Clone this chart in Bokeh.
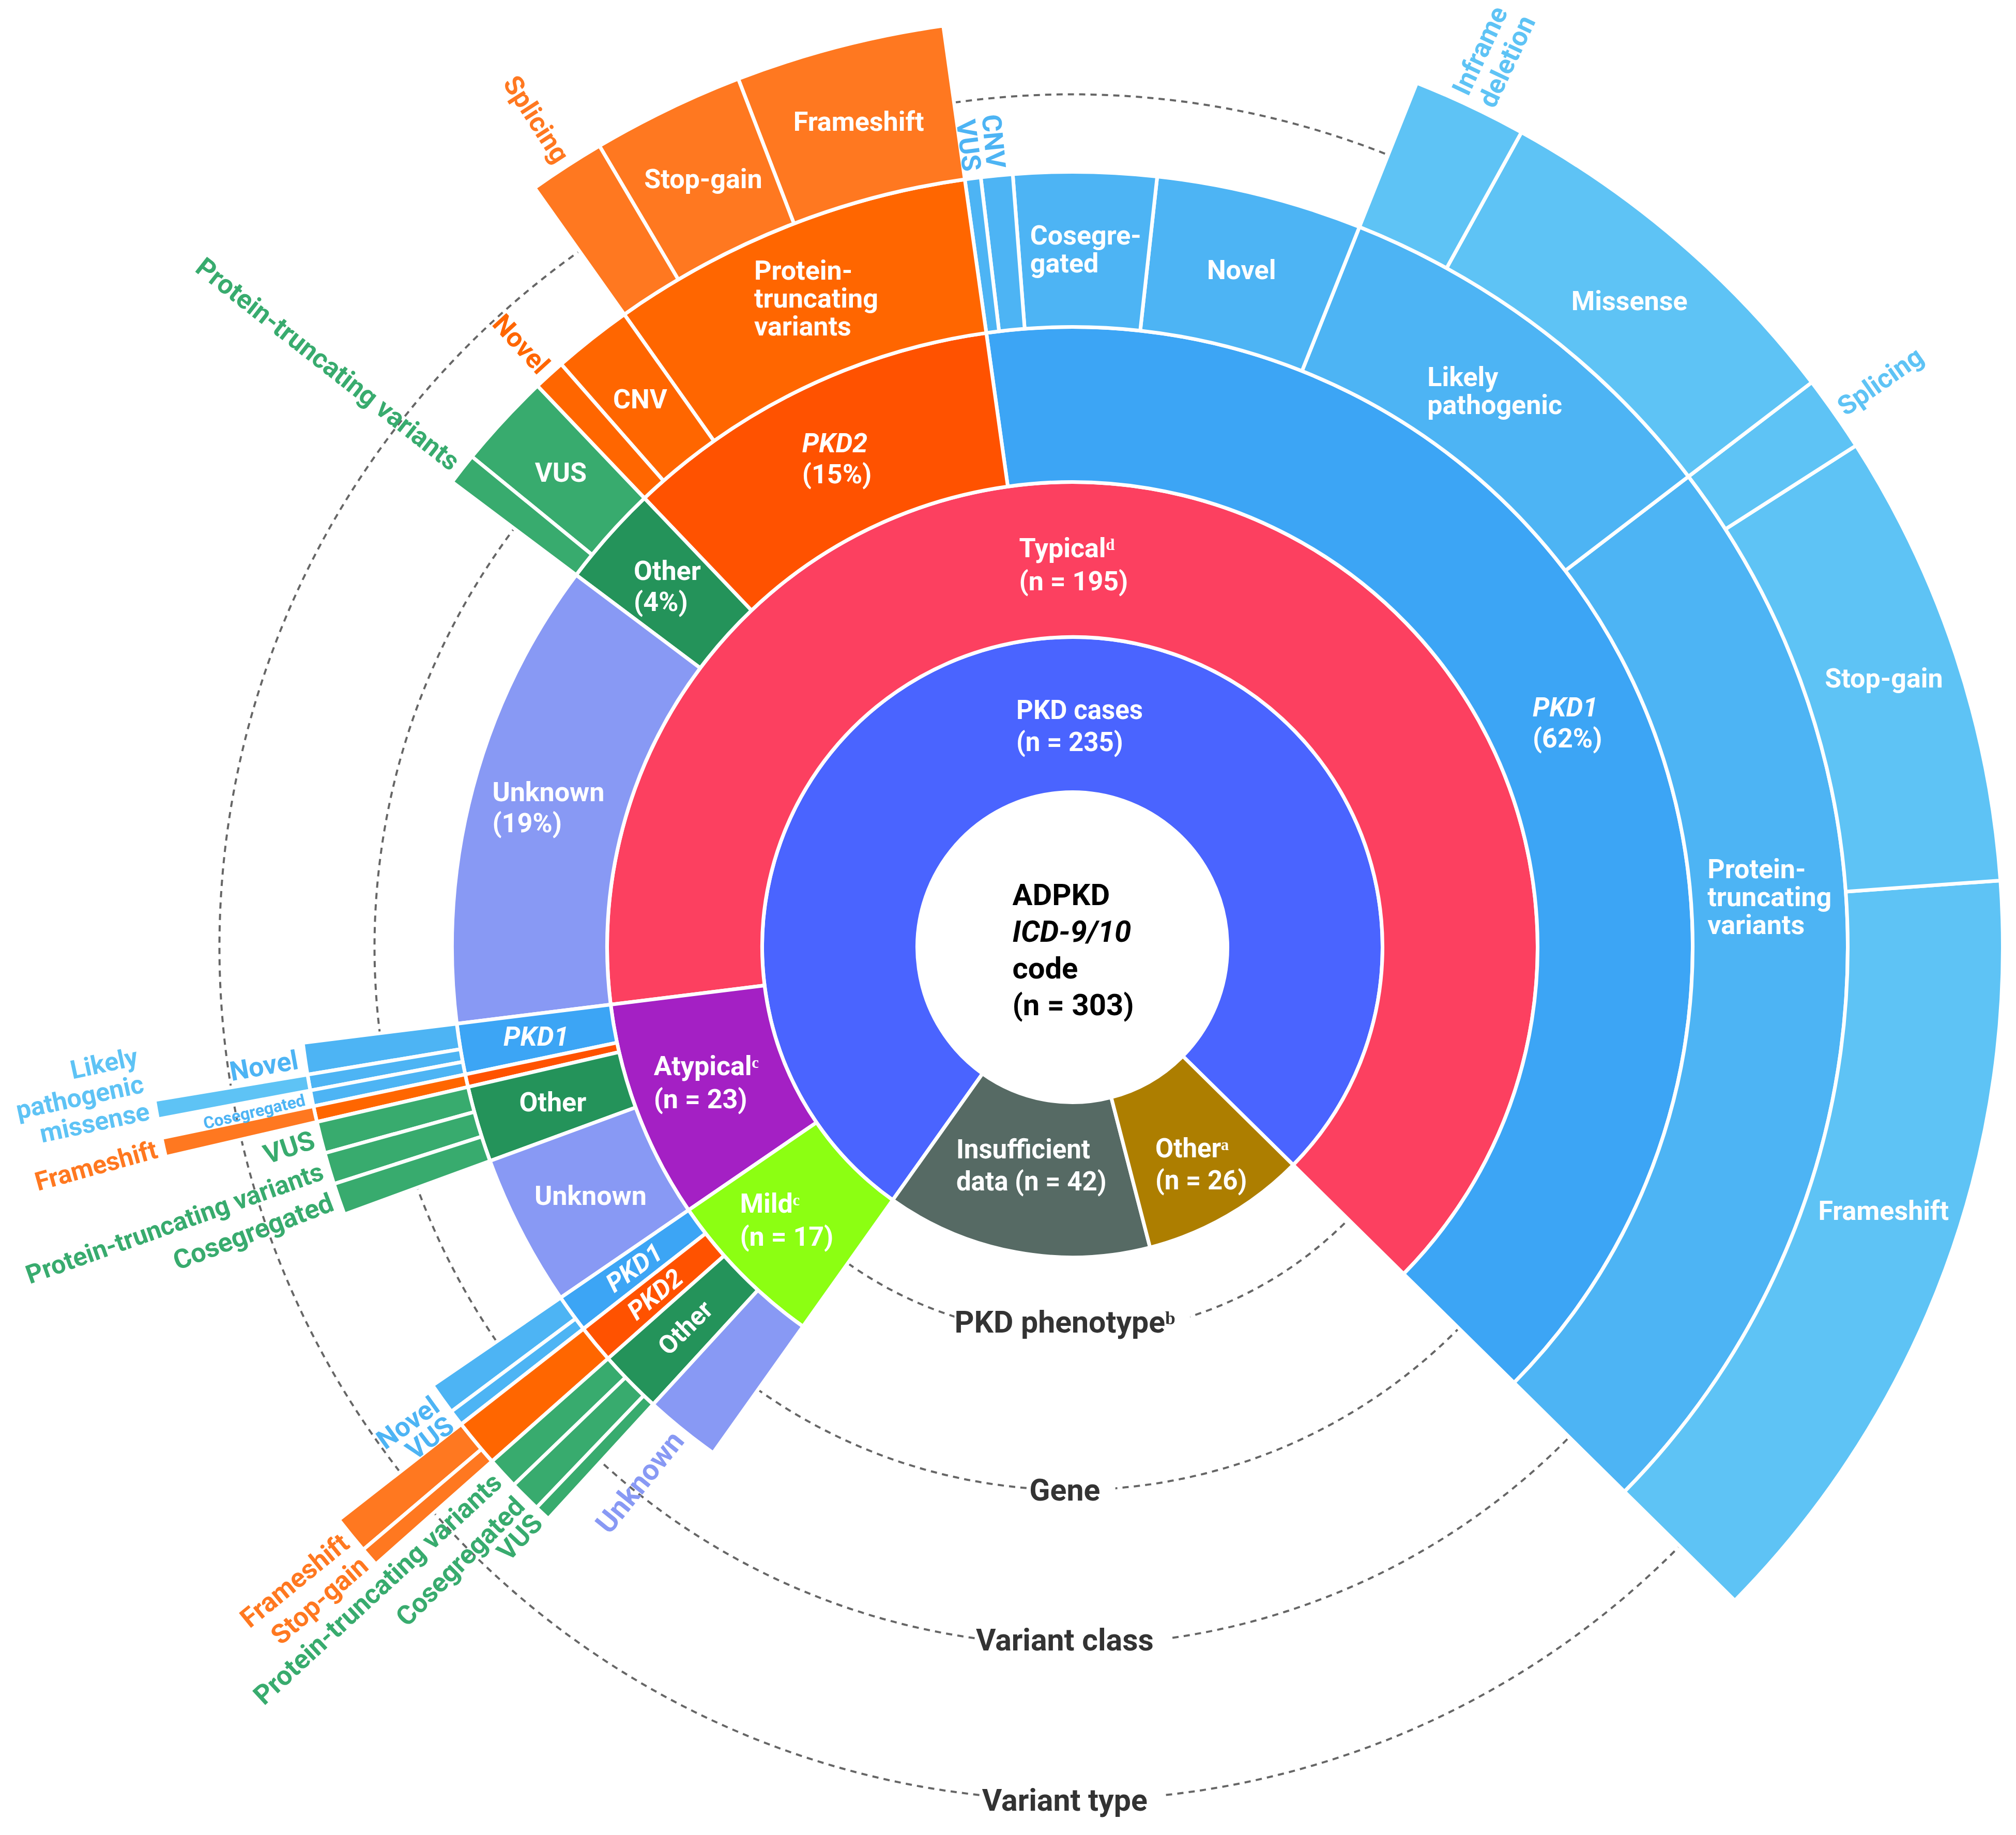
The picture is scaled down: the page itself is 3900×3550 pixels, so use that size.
import math
from bokeh.plotting import figure
from bokeh.models import Range1d, Label
from bokeh.embed import file_html
from bokeh.resources import INLINE
from bokeh.core.properties import value

# ---------------- data ----------------
centre_lines = ["ADPKD", "ICD-9/10", "code"]

cohort_names = ["PKD cases", "Insufficient data", "Other"]
cohort_counts = [235, 42, 26]

phenotype_cohort = [0, 0, 0]
phenotype_names = ["Typical", "Atypical", "Mild"]
phenotype_counts = [195, 23, 17]

gene_phenotype = [0, 0, 0, 0, 1, 1, 1, 1, 2, 2, 2, 2]
gene_names = ["PKD1", "PKD2", "Other", "Unknown",
              "PKD1", "PKD2", "Other", "Unknown",
              "PKD1", "PKD2", "Other", "Unknown"]
gene_counts = [120, 30, 8, 37, 4, 1, 6, 12, 3, 3, 5, 6]

class_gene = [0, 0, 0, 0, 0, 0, 1, 1, 1, 2, 2, 4, 4, 4, 5, 6, 6, 6, 8, 8, 9, 10, 10, 10]
class_names = ["Protein-truncating variants", "Likely pathogenic", "Novel", "Cosegregated", "CNV", "VUS",
               "Protein-truncating variants", "CNV", "Novel",
               "VUS", "Protein-truncating variants",
               "Novel", "Likely pathogenic", "Cosegregated",
               "Protein-truncating variants",
               "VUS", "Protein-truncating variants", "Cosegregated",
               "Novel", "VUS",
               "Protein-truncating variants",
               "Protein-truncating variants", "Cosegregated", "VUS"]
class_counts = [69, 26, 13, 9, 2, 1, 23, 5, 2, 6, 2, 2, 1, 1, 1, 2, 2, 2, 2, 1, 3, 2, 2, 1]

type_class = [0, 0, 0, 1, 1, 6, 6, 6, 12, 14, 20, 20]
type_names = ["Frameshift", "Stop-gain", "Splicing", "Missense", "Inframe deletion",
              "Frameshift", "Stop-gain", "Splicing", "Missense", "Frameshift",
              "Frameshift", "Stop-gain"]
type_counts = [41, 24, 4, 20, 6, 11, 8, 4, 1, 1, 2, 1]

ring_titles = ["PKD phenotype\u1d47", "Gene", "Variant class", "Variant type"]

# ---------------- geometry / style ----------------
W, H = 3884, 3534
CX, CY = 2082.0, 3550.0 - 1840.0
START = -44.6
STEP = 360.0 / sum(cohort_counts)
R = [300, 600, 900, 1200, 1500, 1800]
FONT = "Roboto"

COHORT_COL = ["#4A64FF", "#566A64", "#AD7E00"]
PHEN_COL = ["#FC4060", "#A420C4", "#8CFF12"]
GENE_COL = {"PKD1": ["#3CA5F5", "#4DB4F4", "#5EC3F5"],
            "PKD2": ["#FF5200", "#FF6600", "#FF7820"],
            "Other": ["#24935A", "#38AB6E", "#38AB6E"],
            "Unknown": ["#8899F4", "#8899F4", "#8899F4"]}

# approximate glyph advances (em) of the bold sans, for centring left-aligned blocks
ADV = {' ': .25, '(': .34, ')': .34, '=': .55, '%': .73, '-': .28, '/': .41, '.': .27}
ADV.update({d: .56 for d in "0123456789"})
ADV.update(dict(zip("abcdefghijklmnopqrstuvwxyz",
                    [.54, .56, .52, .56, .53, .35, .56, .55, .25, .25, .51, .25, .88, .55, .57, .56, .56,
                     .35, .52, .33, .55, .49, .75, .50, .48, .49])))
ADV.update(dict(zip("ABCDEFGHIJKLMNOPQRSTUVWXYZ",
                    [.66, .63, .65, .65, .57, .56, .68, .71, .28, .55, .64, .54, .87, .71, .69, .64, .69,
                     .62, .60, .61, .65, .65, .87, .63, .61, .60])))


def tw(s, size):
    return sum(ADV.get(ch, .36) for ch in s) * size


def layout(parent_start, parents, counts):
    cur, s_l, e_l = {}, [], []
    for par, c in zip(parents, counts):
        s = cur.get(par, parent_start[par])
        e = s + c * STEP
        s_l.append(s)
        e_l.append(e)
        cur[par] = e
    return s_l, e_l


c_s, c_e = layout([START], [0, 0, 0], cohort_counts)
p_s, p_e = layout(c_s, phenotype_cohort, phenotype_counts)
g_s, g_e = layout(p_s, gene_phenotype, gene_counts)
k_s, k_e = layout(g_s, class_gene, class_counts)
t_s, t_e = layout(k_s, type_class, type_counts)

g_col = [GENE_COL[n][0] for n in gene_names]
k_col = [GENE_COL[gene_names[g]][1] for g in class_gene]
t_col = [GENE_COL[gene_names[class_gene[k]]][2] for k in type_class]

p = figure(width=W, height=H, x_range=Range1d(8, 8 + W), y_range=Range1d(8, 8 + H),
           output_backend="svg", toolbar_location=None, min_border=0,
           x_axis_location=None, y_axis_location=None, title_location=None)
p.grid.visible = False
p.outline_line_color = None
p.background_fill_color = "white"
p.border_fill_color = "white"


def pol(a_deg, r):
    a = math.radians(a_deg)
    return CX + r * math.cos(a), CY + r * math.sin(a)


# dashed guide circles (behind everything)
for i in range(1, 5):
    p.circle(x=CX, y=CY, radius=(R[i] + R[i + 1]) / 2, fill_color=None,
             line_color="#666666", line_width=4, line_dash="12 10")


def ring(r0, r1, starts, ends, colors):
    p.annular_wedge(x=CX, y=CY, inner_radius=r0, outer_radius=r1,
                    start_angle=[math.radians(a) for a in starts],
                    end_angle=[math.radians(a) for a in ends],
                    fill_color=colors, line_color="white", line_width=7)


ring(R[0], R[1], c_s, c_e, COHORT_COL)
ring(R[1], R[2], p_s, p_e, PHEN_COL)
ring(R[2], R[3], g_s, g_e, g_col)
ring(R[3], R[4], k_s, k_e, k_col)
ring(R[4], R[5], t_s, t_e, t_col)


def text_block(px, py, lines, size, color, align="left", rot=0.0, mode="center", lh=None, font=FONT):
    lh = lh or size * 1.08
    n = len(lines)
    c = (n - 1) / 2 if mode == "center" else (n - 1 if mode == "last" else 0)
    a = math.radians(rot)
    ux, uy = -math.sin(a), math.cos(a)
    for i, (t, st) in enumerate(lines):
        off = (c - i) * lh
        p.text(x=[px + ux * off], y=[py + uy * off], text=[t], angle=a,
               text_font=value(font), text_font_size=f"{size}px", text_font_style=st,
               text_color=color, text_align=align, text_baseline="middle")


def inside(s, e, idx, r0, r1, lines, size, ang=None, r=None, rot=None, lh=None, color="white"):
    a = ang if ang is not None else (s[idx] + e[idx]) / 2
    rr = r if r is not None else (r0 + r1) / 2
    mx, my = pol(a, rr)
    if rot is None:
        w = max(tw(t, size) for t, _ in lines)
        text_block(mx - w / 2, my, lines, size, color, "left", lh=lh)
    else:
        text_block(mx, my, lines, size, color, "center", rot=rot, lh=lh)


def outside(s, e, idx, edge, lines, color, size=52, mode="center", pad=14, drot=0.0):
    mid = (s[idx] + e[idx]) / 2
    m = ((mid + 180) % 360) - 180
    px, py = pol(mid, edge + pad)
    if -90 < m < 90:
        text_block(px, py, lines, size, color, "left", rot=m + drot, mode=mode)
    else:
        rot = m - 180 if m > 0 else m + 180
        text_block(px, py, lines, size, color, "right", rot=rot + drot, mode=mode)


B, BI = "bold", "bold italic"

# centre
centre = [(centre_lines[0], B), (centre_lines[1], BI), (centre_lines[2], B), (f"(n = {sum(cohort_counts)})", B)]
text_block(CX - 116, CY - 5, centre, 58, "black", "left", lh=71)

# cohort ring
inside(c_s, c_e, 0, R[0], R[1], [("PKD cases", B), (f"(n = {cohort_counts[0]})", B)], 51, ang=88.1, r=428, lh=62)
inside(c_s, c_e, 1, R[0], R[1], [("Insufficient", B), (f"data (n = {cohort_counts[1]})", B)], 51, ang=259.1,
       r=430, lh=62)
inside(c_s, c_e, 2, R[0], R[1], [("Other\u1d43", B), (f"(n = {cohort_counts[2]})", B)], 51, ang=300.5, r=487, lh=62)

# phenotype ring
sup = ["\u1d48", "\u1d9c", "\u1d9c"]
ph_pos = [(90, 740), (200.3, 754), (223.6, 766)]
for i in range(3):
    inside(p_s, p_e, i, R[1], R[2], [(phenotype_names[i] + sup[i], B), (f"(n = {phenotype_counts[i]})", B)],
           52, ang=ph_pos[i][0], r=ph_pos[i][1], lh=64)

# gene ring, typical
for i in range(4):
    pct = round(100 * gene_counts[i] / phenotype_counts[0])
    st = BI if gene_names[i].startswith("PKD") else B
    inside(g_s, g_e, i, R[2], R[3], [(gene_names[i], st), (f"({pct}%)", B)], 52,
           ang=24.4 if i == 0 else None, lh=60)
# gene ring, atypical (horizontal)
for i in (4, 6, 7):
    st = BI if gene_names[i].startswith("PKD") else B
    inside(g_s, g_e, i, R[2], R[3], [(gene_names[i], st)], 52)
# gene ring, mild (rotated)
for i in (8, 9, 10):
    st = BI if gene_names[i].startswith("PKD") else B
    mid = (g_s[i] + g_e[i]) / 2
    inside(g_s, g_e, i, R[2], R[3], [(gene_names[i], st)], 50, rot=mid - 180)

# variant class ring
inside(k_s, k_e, 0, R[3], R[4], [("Protein-", B), ("truncating", B), ("variants", B)], 52, ang=4.1, lh=54)
inside(k_s, k_e, 1, R[3], R[4], [("Likely", B), ("pathogenic", B)], 52, lh=54)
inside(k_s, k_e, 2, R[3], R[4], [(class_names[2], B)], 52)
inside(k_s, k_e, 3, R[3], R[4], [("Cosegre-", B), ("gated", B)], 52, lh=54)
inside(k_s, k_e, 6, R[3], R[4], [("Protein-", B), ("truncating", B), ("variants", B)], 52, lh=54)
inside(k_s, k_e, 7, R[3], R[4], [(class_names[7], B)], 52)
inside(k_s, k_e, 9, R[3], R[4], [(class_names[9], B)], 52)

# variant type ring
inside(t_s, t_e, 0, R[4], R[5], [(type_names[0], B)], 52, ang=-18)
for i in (1, 3, 5, 6):
    inside(t_s, t_e, i, R[4], R[5], [(type_names[i], B)], 52)

# outside labels
BL1, BL2 = GENE_COL["PKD1"][1], GENE_COL["PKD1"][2]
OR1, OR2 = GENE_COL["PKD2"][1], GENE_COL["PKD2"][2]
GR = GENE_COL["Other"][1]
for i in (4, 5):
    outside(k_s, k_e, i, R[4], [(class_names[i], B)], BL1)
outside(t_s, t_e, 2, R[5], [(type_names[2], B)], BL2)
outside(t_s, t_e, 4, R[5], [("Inframe", B), ("deletion", B)], BL2)
outside(k_s, k_e, 8, R[4], [(class_names[8], B)], OR1)
outside(t_s, t_e, 7, R[5], [(type_names[7], B)], OR2)
outside(k_s, k_e, 10, R[4], [(class_names[10], B)], GR)
# atypical
outside(k_s, k_e, 11, R[4], [(class_names[11], B)], BL1, drot=2)
outside(t_s, t_e, 8, R[5], [("Likely", B), ("pathogenic", B), ("missense", B)], BL2, size=50, mode="last", drot=2)
outside(k_s, k_e, 13, R[4], [(class_names[13], B)], BL1, size=32, drot=2)
outside(t_s, t_e, 9, R[5], [(type_names[9], B)], OR2, size=50, drot=3)
outside(k_s, k_e, 15, R[4], [(class_names[15], B)], GR, drot=4)
outside(k_s, k_e, 16, R[4], [(class_names[16], B)], GR, size=50, drot=3)
outside(k_s, k_e, 17, R[4], [(class_names[17], B)], GR, drot=2)
# mild
for i in (18, 19):
    outside(k_s, k_e, i, R[4], [(class_names[i], B)], BL1)
for i in (10, 11):
    outside(t_s, t_e, i, R[5], [(type_names[i], B)], OR2)
for i in (21, 22, 23):
    outside(k_s, k_e, i, R[4], [(class_names[i], B)], GR)
outside(g_s, g_e, 11, R[3], [(gene_names[11], B)], GENE_COL["Unknown"][0], size=56)

# ring titles
for title, r in zip(ring_titles, [725, 1050, 1340, 1650]):
    p.add_layout(Label(x=CX, y=CY - r, text=" " + title + " ", text_align="center", text_baseline="middle",
                       text_font=FONT, text_font_size="59px", text_font_style="bold",
                       text_color="#333333", background_fill_color="white"))

open("out.html", "w").write(file_html(p, INLINE))
